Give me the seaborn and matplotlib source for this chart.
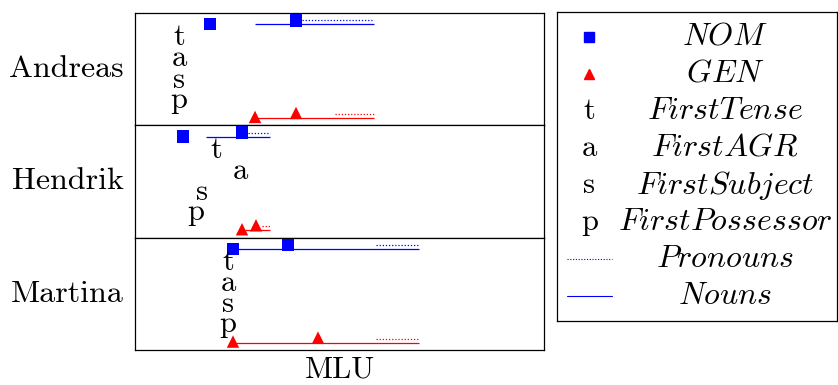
import pandas as pd
import matplotlib
matplotlib.use('Agg')
import matplotlib.pyplot as plt
import seaborn as sns

sns.set_theme(style='white')
plt.rcParams['font.family'] = ['cmr10', 'DejaVu Serif']
plt.rcParams['mathtext.fontset'] = 'cm'
plt.rcParams['axes.formatter.use_mathtext'] = True
plt.rcParams['text.color'] = 'black'
plt.rcParams['axes.labelcolor'] = 'black'

# children (one panel each)
children = ['Andreas', 'Hendrik', 'Martina']

# first use of NOM / GEN marked for nouns and pronouns (MLU)
nom_noun_first = [1.75, 1.48, 1.98]
nom_pron_first = [2.61, 2.07, 2.53]
gen_noun_first = [2.20, 2.07, 1.98]
gen_pron_first = [2.61, 2.21, 2.83]

# ranges of use (MLU), start and end
nom_noun_range = [(2.20, 3.39), (1.71, 2.35), (1.98, 3.84)]
nom_pron_range = [(2.67, 3.39), (2.13, 2.35), (3.41, 3.84)]
gen_noun_range = [(2.20, 3.39), (2.10, 2.35), (1.98, 3.84)]
gen_pron_range = [(3.00, 3.39), (2.27, 2.35), (3.41, 3.84)]

# first tense / AGR / subject / possessor (MLU)
first_tense = [1.44, 1.81, 1.93]
first_agr = [1.44, 2.05, 1.93]
first_subject = [1.44, 1.67, 1.93]
first_possessor = [1.44, 1.61, 1.93]

letters = ['t', 'a', 's', 'p']
legend_labels = ['$NOM$', '$GEN$', '$FirstTense$', '$FirstAGR$',
                 '$FirstSubject$', '$FirstPossessor$', '$Pronouns$', '$Nouns$']

# vertical rows inside a panel
row_nom_noun, row_nom_pron = 0.90, 0.935
row_gen_noun, row_gen_pron = 0.065, 0.10
letter_rows = [0.78, 0.595, 0.405, 0.225]

blue = '#0000ff'
red = '#ff0000'

fig, axes = plt.subplots(3, 1, figsize=(8.38, 3.85), dpi=100, sharex=True)
fig.subplots_adjust(left=0.1611, right=0.6492, top=0.9662, bottom=0.0909, hspace=0)

for i, ax in enumerate(axes):
    ax.set_xlim(1.0, 5.09)
    ax.set_ylim(0, 1)
    ax.set_xticks([])
    ax.set_yticks([])
    for sp in ax.spines.values():
        sp.set_color('black')
        sp.set_linewidth(0.9)

    # range lines
    ax.hlines(row_nom_noun, *nom_noun_range[i], color=blue, lw=0.9)
    ax.hlines(row_nom_pron, *nom_pron_range[i], color=blue, lw=0.9, linestyles=(0, (1, 1.5)))
    ax.hlines(row_gen_noun, *gen_noun_range[i], color=red, lw=0.9)
    ax.hlines(row_gen_pron, *gen_pron_range[i], color=red, lw=0.9, linestyles=(0, (1, 1.5)))

    marks = pd.DataFrame({
        'mlu': [nom_noun_first[i], nom_pron_first[i], gen_noun_first[i], gen_pron_first[i]],
        'row': [row_nom_noun, row_nom_pron, row_gen_noun + 0.01, row_gen_pron + 0.01],
        'case': ['NOM', 'NOM', 'GEN', 'GEN'],
    })
    sns.scatterplot(data=marks, x='mlu', y='row', hue='case', style='case',
                    palette={'NOM': blue, 'GEN': red}, markers={'NOM': 's', 'GEN': '^'},
                    s=80, linewidth=0, legend=False, ax=ax, zorder=3, clip_on=False)

    xs = [first_tense[i], first_agr[i], first_subject[i], first_possessor[i]]
    for letter, x, yr in zip(letters, xs, letter_rows):
        ax.text(x, yr, letter, ha='center', va='center', fontsize=22)

    ax.text(-0.027, 0.5, children[i], transform=ax.transAxes, ha='right',
            va='center', fontsize=23)
    ax.set_xlabel('')
    ax.set_ylabel('')

axes[-1].text(0.5, -0.18, 'MLU', transform=axes[-1].transAxes, ha='center',
              va='center', fontsize=22)

# hand-built legend box
lg = fig.add_axes([0.6647, 0.1662, 0.3341, 0.8026])
lg.set_xlim(0, 1)
lg.set_ylim(0, 1)
lg.set_xticks([])
lg.set_yticks([])
for sp in lg.spines.values():
    sp.set_color('black')
    sp.set_linewidth(0.9)

n = len(legend_labels)
top, bottom = 0.92, 0.08
rows = [top - k * (top - bottom) / (n - 1) for k in range(n)]
hx = 0.115
lg.plot([hx], [rows[0]], marker='s', color=blue, ms=6.5, lw=0)
lg.plot([hx], [rows[1]], marker='^', color=red, ms=6.5, lw=0)
for k, letter in enumerate(letters):
    lg.text(hx, rows[2 + k], letter, ha='center', va='center', fontsize=22)
lg.plot([0.035, 0.195], [rows[6]] * 2, color=blue, lw=0.8, ls=(0, (1, 1.5)))
lg.plot([0.035, 0.195], [rows[7]] * 2, color=blue, lw=0.8)
for k, lab in enumerate(legend_labels):
    lg.text(0.6, rows[k], lab, ha='center', va='center', fontsize=23)

fig.savefig('out.png', dpi=100)
